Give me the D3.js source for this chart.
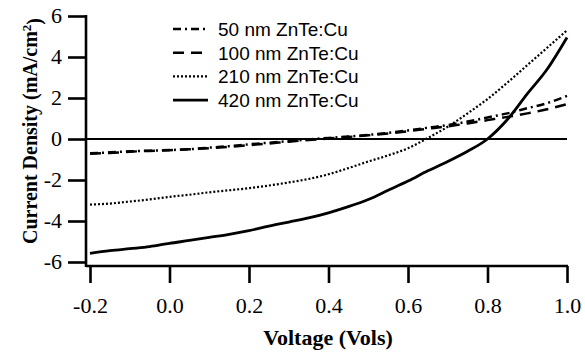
<!DOCTYPE html>
<html><head><meta charset="utf-8">
<script src="https://cdn.jsdelivr.net/npm/d3@7"></script>
<style>body{margin:0;background:#fff;}svg{display:block;}</style>
</head><body>
<script>
const voltage = [-0.2,-0.15,-0.1,-0.05,0,0.05,0.1,0.15,0.2,0.25,0.3,0.35,0.4,0.45,0.5,0.55,0.6,0.65,0.7,0.75,0.8,0.85,0.9,0.95,1.0];
const j50  = [-0.7,-0.65,-0.6,-0.57,-0.54,-0.5,-0.42,-0.35,-0.26,-0.18,-0.1,-0.02,0.05,0.12,0.2,0.3,0.42,0.55,0.68,0.85,1.05,1.25,1.5,1.75,2.1];
const j100 = [-0.72,-0.68,-0.62,-0.58,-0.55,-0.5,-0.45,-0.38,-0.3,-0.22,-0.13,-0.05,0.02,0.1,0.18,0.27,0.38,0.5,0.62,0.76,0.92,1.08,1.25,1.45,1.7];
const j210 = [-3.2,-3.15,-3.05,-2.95,-2.82,-2.72,-2.6,-2.5,-2.4,-2.27,-2.12,-1.95,-1.72,-1.42,-1.1,-0.8,-0.45,0.05,0.6,1.25,1.95,2.75,3.6,4.45,5.3];
const j420 = [-5.58,-5.45,-5.35,-5.25,-5.09,-4.95,-4.8,-4.65,-4.47,-4.25,-4.05,-3.85,-3.6,-3.3,-2.95,-2.5,-2.05,-1.55,-1.1,-0.6,0.0,0.95,2.2,3.4,4.95];
const seriesNames = ["50 nm ZnTe:Cu","100 nm ZnTe:Cu","210 nm ZnTe:Cu","420 nm ZnTe:Cu"];
const seriesValues = [j50, j100, j210, j420];
const seriesDash = ["8,4,2,4","11,7","2,2",null];
const seriesWidth = [2.5,2.5,2.2,2.8];
const xTicks = [-0.2,0.0,0.2,0.4,0.6,0.8,1.0];
const yTicks = [-6,-4,-2,0,2,4,6];

const W=585,H=354;
const svg=d3.select("body").append("svg").attr("width",W).attr("height",H);
const x=d3.scaleLinear().domain([-0.2,1.0]).range([90,567]);
const y=d3.scaleLinear().domain([-6,6]).range([262,16]);
const serif="'Liberation Serif','Times New Roman',Times,serif";
const sans="'Liberation Sans',Arial,Helvetica,sans-serif";
const hy = f => d => f(d).replace("\u2212","-");
const SX = 1.1;

// axes
const xAxis=svg.append("g").attr("transform","translate(0,266)")
  .call(d3.axisBottom(x).tickValues(xTicks).tickFormat(hy(d3.format(".1f"))).tickSize(17).tickSizeOuter(0));
xAxis.select(".domain").attr("d","M86,0H568");
const yAxis=svg.append("g").attr("transform","translate(86,0)")
  .call(d3.axisLeft(y).tickValues(yTicks).tickFormat(hy(d3.format("d"))).tickSize(18).tickSizeOuter(0));
yAxis.select(".domain").attr("d","M0,15V267");
[xAxis,yAxis].forEach(a=>{
  a.selectAll("path,line").attr("stroke","#000").attr("stroke-width",2.6);
  a.selectAll("text").attr("font-family",serif).attr("font-size",20).attr("fill","#000");
});
xAxis.selectAll("text").attr("dy",null).attr("y",47).attr("transform",`scale(${SX},1)`);
yAxis.selectAll("text").attr("dy","0.33em").attr("x",-24/SX).attr("transform",`scale(${SX},1)`);

// zero line
svg.append("line").attr("x1",86).attr("x2",567).attr("y1",y(0)).attr("y2",y(0))
  .attr("stroke","#000").attr("stroke-width",2);

// series
const line=d3.line().x((d,i)=>x(voltage[i])).y(d=>y(d)).curve(d3.curveMonotoneX);
seriesValues.forEach((vals,k)=>{
  svg.append("path").attr("d",line(vals)).attr("fill","none").attr("stroke","#000")
    .attr("stroke-width",seriesWidth[k]).attr("stroke-dasharray",seriesDash[k]);
});

// legend
const lg=svg.append("g");
seriesNames.forEach((n,k)=>{
  const by=36+k*23.7;
  lg.append("line").attr("x1",173).attr("x2",208).attr("y1",by-7).attr("y2",by-7)
    .attr("stroke","#000").attr("stroke-width",seriesWidth[k]).attr("stroke-dasharray",seriesDash[k]);
  lg.append("text").attr("x",218).attr("y",by).attr("font-family",sans).attr("font-size",19).text(n);
});

// titles
svg.append("text").attr("transform",`translate(328,345) scale(${SX},1)`).attr("text-anchor","middle")
  .attr("font-family",serif).attr("font-weight","bold").attr("font-size",20).text("Voltage (Vols)");
const yt=svg.append("text").attr("transform","translate(37,131) rotate(-90)").attr("text-anchor","middle")
  .attr("font-family",serif).attr("font-weight","bold").attr("font-size",20);
yt.append("tspan").text("Current Density (mA/cm");
yt.append("tspan").attr("dy","-0.5em").attr("font-size",13).text("2");
yt.append("tspan").attr("dy","0.5em").text(")");
</script>
</body></html>
